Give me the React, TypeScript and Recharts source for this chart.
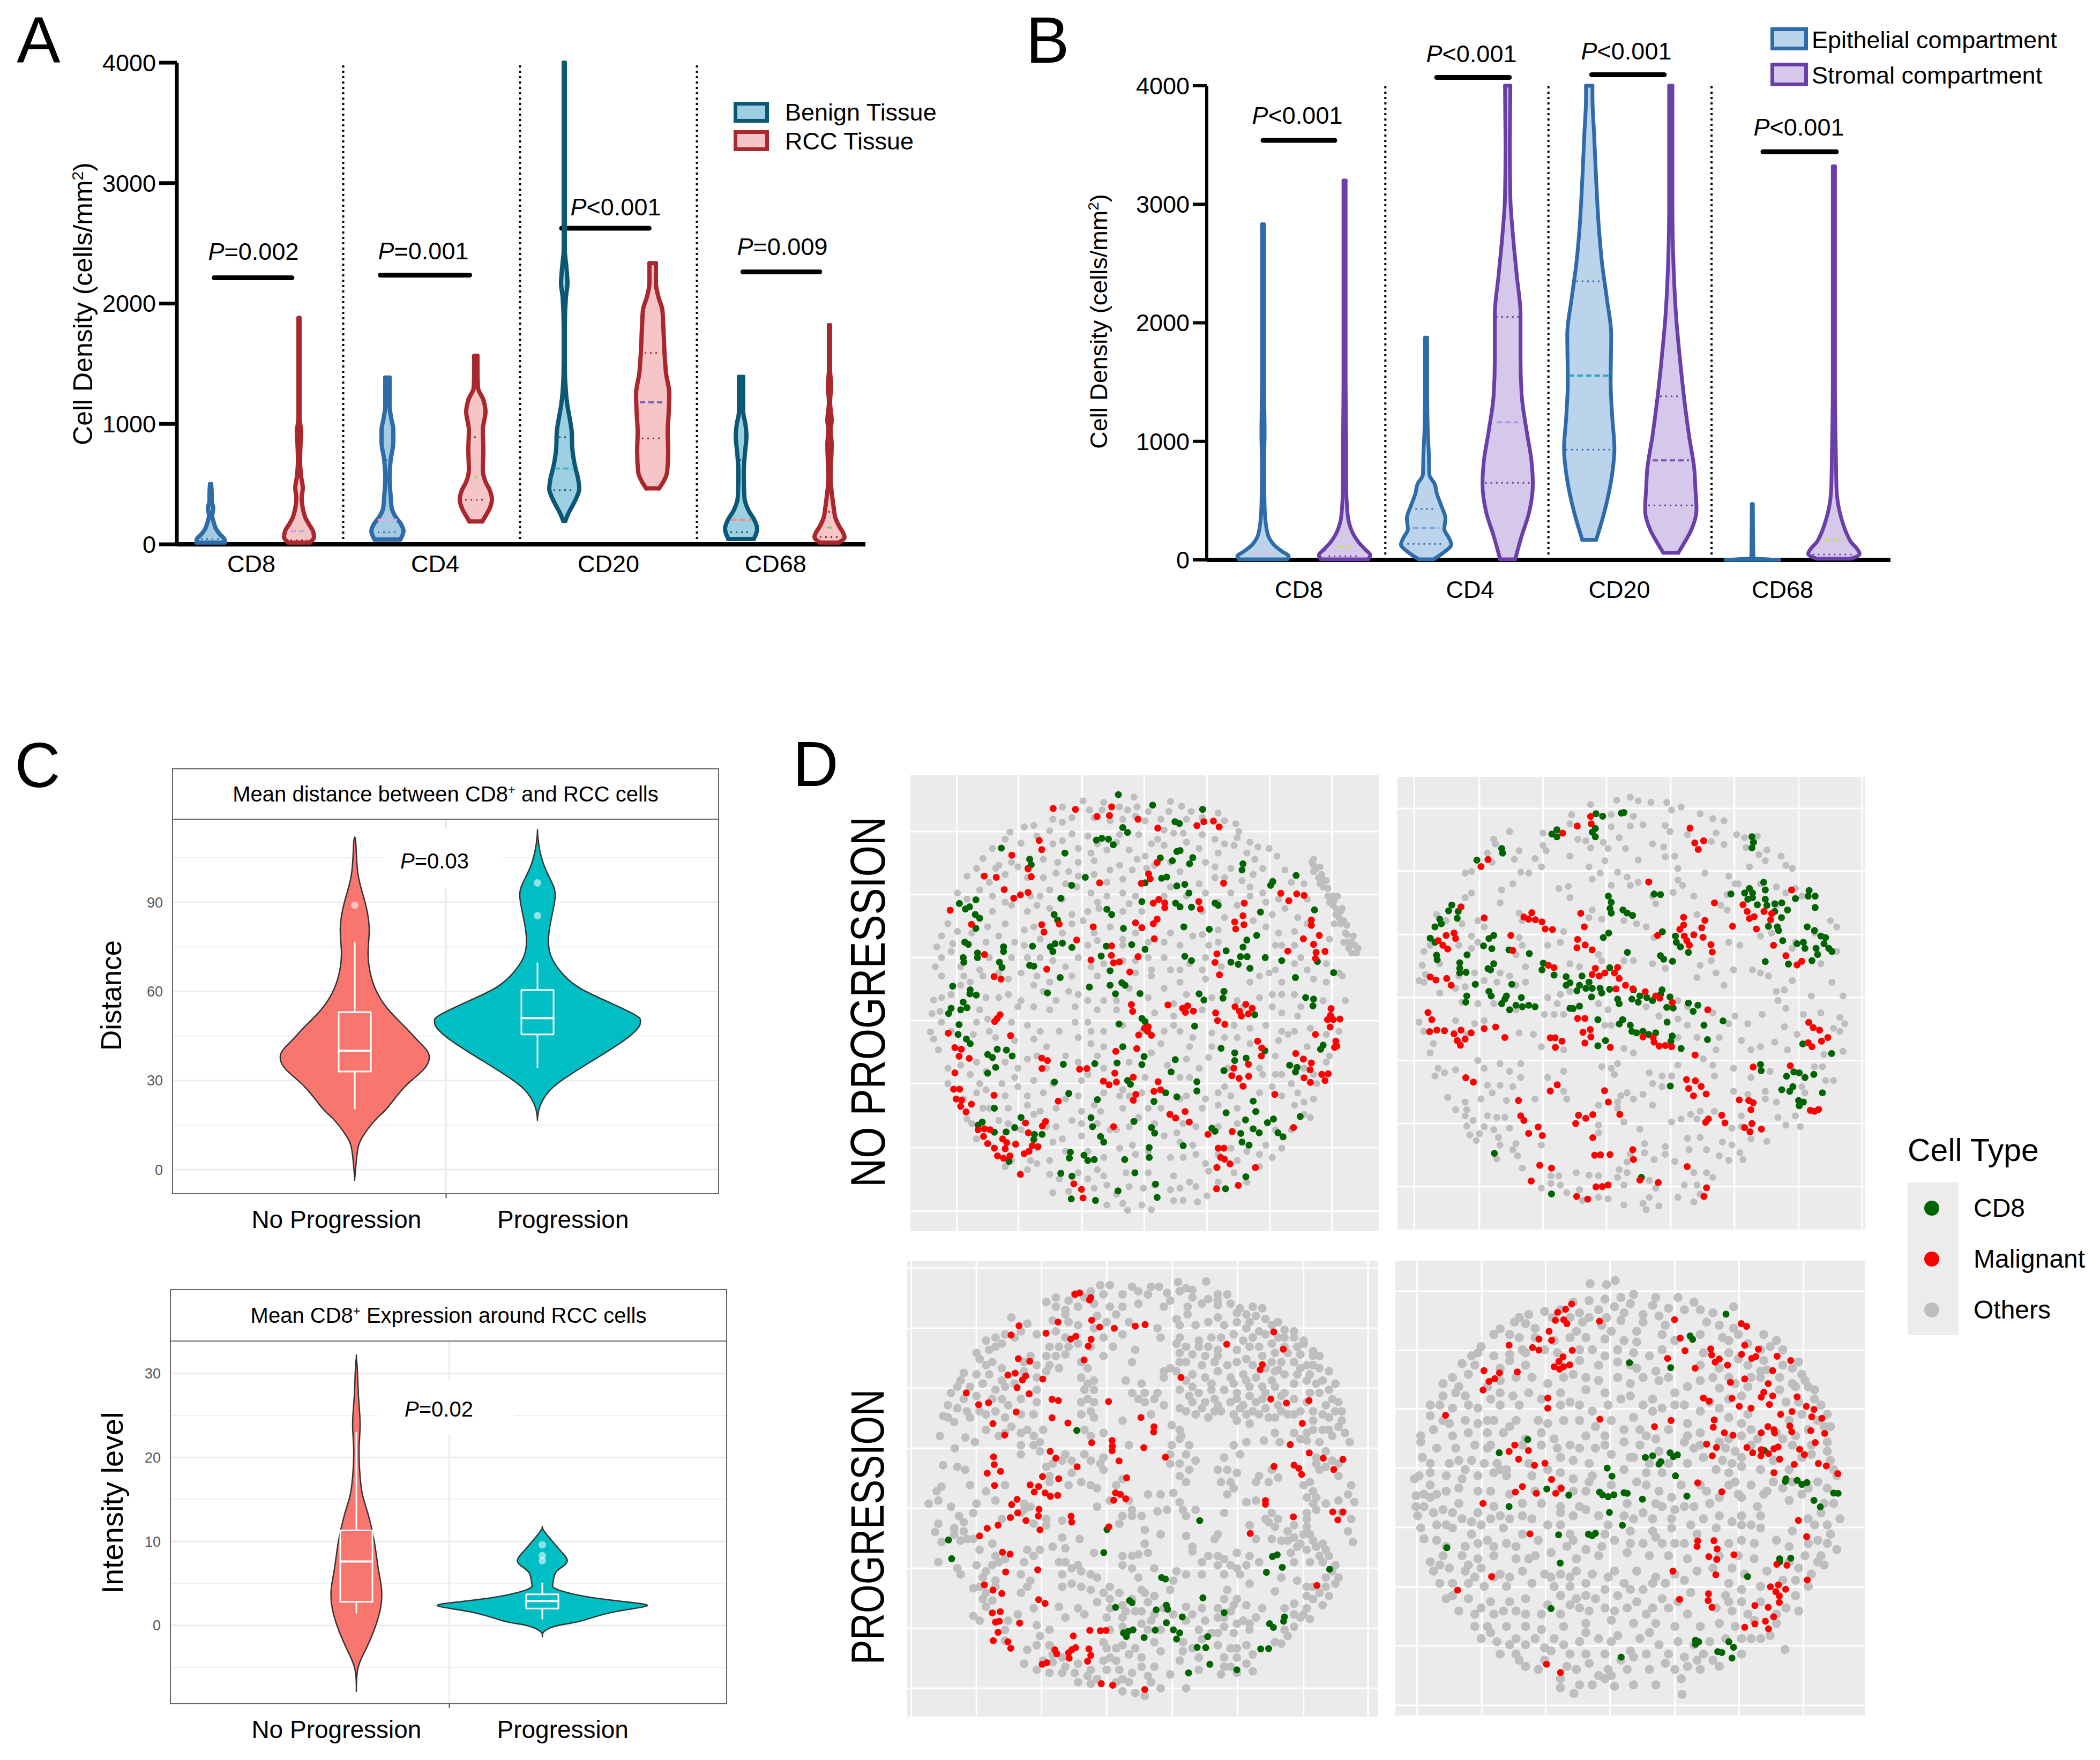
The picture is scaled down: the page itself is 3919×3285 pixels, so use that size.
import React from 'react';
import { ScatterChart, Scatter, XAxis, YAxis, ReferenceLine, CartesianGrid } from 'recharts';

const PAGE_W = 3919;
const PAGE_H = 3285;
const SANS = '"Liberation Sans", Arial, sans-serif';

type Profile = [number, number][];

// panel A: [cell density, half width of the violin]
const aCd8Benign: Profile = [[15,26],[40,26],[80,18],[130,10],[180,6],[240,3],[300,5],[360,2],[420,2],[500,1]];
const aCd8Rcc: Profile = [[15,20],[60,28],[110,26],[170,18],[220,12],[300,7],[380,5],[470,7],[560,4],[700,2],[850,3],[930,4],[1050,1],[1400,1],[1880,1]];
const aCd4Benign: Profile = [[40,24],[110,30],[170,25],[230,15],[300,8],[400,6],[550,4],[700,6],[850,11],[950,11],[1050,7],[1150,4],[1300,4],[1385,4]];
const aCd4Rcc: Profile = [[190,12],[250,20],[300,26],[375,30],[450,26],[520,18],[620,13],[780,14],[950,13],[1100,18],[1200,14],[1300,4],[1450,3],[1565,3]];
const aCd20Benign: Profile = [[195,2],[260,8],[310,14],[380,22],[460,28],[540,26],[650,20],[800,15],[930,14],[1050,10],[1150,6],[1270,3],[1500,1],[1800,1],[2050,3],[2170,6],[2300,4],[2450,1],[4000,1]];
const aCd20Rcc: Profile = [[465,12],[520,20],[600,27],[770,29],[930,28],[1100,30],[1250,31],[1420,25],[1600,22],[1800,20],[1950,18],[2050,11],[2170,6],[2335,6]];
const aCd68Benign: Profile = [[45,24],[130,30],[200,25],[280,14],[400,6],[600,5],[750,7],[900,10],[1000,8],[1100,4],[1390,4]];
const aCd68Rcc: Profile = [[15,18],[60,28],[100,25],[150,18],[220,11],[300,8],[400,5],[550,2],[830,4],[950,2],[1030,4],[1180,1],[1320,3],[1450,1],[1820,1]];
const aProfiles = [aCd8Benign, aCd8Rcc, aCd4Benign, aCd4Rcc, aCd20Benign, aCd20Rcc, aCd68Benign, aCd68Rcc];
const aStrokes = ['#2f6ba6', '#a9282d', '#2f6ba6', '#a9282d', '#0c5874', '#a9282d', '#0c5874', '#a9282d'];
const aFills = ['#a5cbe4', '#f5c5c7', '#a5cbe4', '#f5c5c7', '#9dcfe2', '#f5c5c7', '#9dcfe2', '#f5c5c7'];
const aMedians: [number, number, number][] = [[1,110,16],[2,205,18],[3,560,4],[4,630,18],[5,1180,24],[6,205,18],[7,140,5]];
const aMedianColors = ['#b8a6ec', '#f3a6e6', '#a8d87a', '#4fb0cf', '#7a62c0', '#ef8f88', '#8ccf70'];
const aQuartiles: [number, number, number][] = [[0,45,18],[1,35,16],[2,100,18],[2,700,3],[3,370,20],[3,890,3],[4,450,20],[4,890,10],[5,880,20],[5,1590,15],[6,100,20],[6,700,3],[7,60,18],[7,270,2]];
const aTickSlots = [0.46, 2.54, 4.5, 6.39];
const markerNames = ['CD8', 'CD4', 'CD20', 'CD68'];
const densityTicks = [0, 1000, 2000, 3000, 4000];
const aBars: [number, number, number][] = [[0.04,0.92,2214],[1.92,2.93,2236],[3.97,4.96,2625],[6.02,6.89,2263]];
const sepSlots = [1.5, 3.5, 5.5];

// panel B
const bCd8Epi: Profile = [[5,45],[30,48],[70,36],[120,22],[180,12],[280,6],[450,3],[800,2],[1070,3],[1500,2],[2830,2]];
const bCd8Str: Profile = [[5,44],[40,48],[90,38],[150,26],[220,16],[320,8],[420,5],[650,3],[900,3],[1500,2],[3200,2]];
const bCd4Epi: Profile = [[5,14],[70,35],[130,47],[190,42],[260,34],[350,36],[460,28],[560,20],[640,16],[720,6],[900,5],[1100,3],[1500,2],[1875,2]];
const bCd4Str: Profile = [[5,14],[200,26],[400,40],[640,47],[850,44],[1070,36],[1400,26],[1700,24],[2070,24],[2400,17],[2730,10],[3060,5],[3500,4],[4000,5]];
const bCd20Epi: Profile = [[170,13],[400,28],[700,42],[940,47],[1200,43],[1500,40],[1900,41],[2200,33],[2500,24],[2800,18],[3200,13],[3600,9],[3900,6],[4000,6]];
const bCd20Str: Profile = [[60,14],[150,26],[250,38],[420,48],[600,46],[760,44],[1050,34],[1400,24],[1700,17],[2050,10],[2500,5],[3000,3],[4000,3]];
const bCd68Epi: Profile = [[0,50],[15,2],[470,1]];
const bCd68Str: Profile = [[10,32],[50,48],[100,42],[150,32],[220,24],[320,16],[420,10],[600,5],[800,4],[1070,3],[1500,2],[3320,2]];
const bProfiles = [bCd8Epi, bCd8Str, bCd4Epi, bCd4Str, bCd20Epi, bCd20Str, bCd68Epi, bCd68Str];
const bStrokes = ['#2f6ba8', '#6a3fa8', '#2f6ba8', '#6a3fa8', '#2f6ba8', '#6a3fa8', '#2f6ba8', '#6a3fa8'];
const bFills = ['#bcd3ec', '#d6c8ea', '#bcd3ec', '#d6c8ea', '#bcd3ec', '#d6c8ea', '#bcd3ec', '#d6c8ea'];
const bMedians: [number, number, number][] = [[0,60,20],[1,110,12],[2,270,25],[3,1160,20],[4,1555,38],[5,840,34],[7,170,18]];
const bMedianColors = ['#e8b8dc', '#c8e05a', '#7fa8de', '#b49be0', '#2aa6c0', '#7a52b8', '#c8e05a'];
const bQuartiles: [number, number, number][] = [[1,30,30],[2,135,35],[2,430,20],[3,650,42],[3,2050,22],[4,930,44],[4,2350,24],[5,460,42],[5,1380,20],[7,45,40]];
const bTickSlots = [0.44, 2.54, 4.37, 6.37];
const bBars: [number, number, number][] = [[0,0.88,3539],[2.13,3.02,4070],[4.03,4.92,4093],[6.13,7.03,3443]];

// panel C, top: distance
const distNo: Profile = [[-3,0],[3,3],[8,7],[12,18],[17,40],[21,62],[28,94],[34,130],[39,138],[43,120],[48,94],[54,62],[61,38],[68,27],[74,25],[81,27],[88,22],[94,13],[101,5],[110,2],[112,0]];
const distYes: Profile = [[17,0],[21,4],[25.6,18],[30,45],[36.7,103],[43.3,160],[48,189],[50,192],[52,183],[56.7,129],[61,80],[65.5,49],[72,25],[79,21],[85.5,27],[92,33],[96.6,27],[103,11],[110,2],[114,0]];
// [whisker low, q1, median, q3, whisker high]
const distBoxes = [[20.5,33,40,53,76.5],[34.5,45.5,51,60.5,69.5]];
const distOutliers = [{ x: 0, y: 89 }, { x: 1, y: 96.5 }, { x: 1, y: 85.5 }];
const distTicks = [0, 30, 60, 90];
const distMinor = [15, 45, 75, 105];

// panel C, bottom: intensity
const intNo: Profile = [[-7.6,0],[-5.1,3],[-2.8,18],[-0.4,34],[2,45],[4.3,47],[6.7,41],[9.8,34],[13,23],[15.4,12],[17.7,7],[20.9,5],[24,7],[27.2,4],[30.3,2],[32,0]];
const intYes: Profile = [[-1.3,0],[-0.7,4],[0,30],[0.5,71],[1.6,134],[2.4,196],[3.1,116],[4.2,31],[5.1,20],[6.3,25],[7.2,42],[7.9,46],[8.6,38],[9.4,27],[10.6,11],[11.6,0]];
const intBoxes = [[1.5,2.8,7.6,11.3,23],[0.8,2,2.9,3.7,5]];
const intOutliers = [{ x: 1, y: 9.6 }, { x: 1, y: 8.3 }, { x: 1, y: 7.7 }];
const intTicks = [0, 10, 20, 30];
const intMinor = [-5, 5, 15, 25];
const groupNames = ['No Progression', 'Progression'];

const tlOthers = [575,130,640,135,690,150,735,118,745,150,850,132,885,148,915,165,510,150,595,160,635,160,715,160,780,165,845,165,1000,170,510,200,540,185,700,190,770,195,830,225,860,235,1020,195,1055,205,1065,230,900,190,
390,215,420,210,470,228,540,238,590,245,690,240,750,240,810,255,890,235,950,240,990,255,1060,250,1125,280,290,285,330,255,345,232,380,268,480,270,560,285,600,300,650,290,720,290,770,310,830,275,940,285,1000,300,1050,275,1090,300,1160,285,
260,318,310,340,350,330,370,345,450,320,495,330,560,330,610,325,660,355,745,320,800,340,960,330,990,345,1040,350,1115,320,1185,310,210,375,240,350,280,395,330,370,450,380,490,365,530,360,560,375,650,395,700,385,730,355,880,360,940,400,990,380,1110,370,1140,350,1210,355,1230,395,1100,410,
180,430,250,420,290,440,440,440,470,420,555,410,600,430,650,440,700,430,740,440,850,410,960,430,1040,430,1140,430,1270,400,1150,460,1060,470,290,490,350,470,400,490,430,470,470,480,540,500,590,490,625,480,700,490,760,490,950,490,1020,510,1170,500,1210,480,1250,510,
150,530,180,555,275,540,330,530,390,550,540,530,575,520,660,540,740,560,850,560,920,570,1000,550,1150,540,1190,560,1240,555,115,605,130,570,165,595,270,590,360,590,390,600,440,580,590,600,620,585,700,580,830,590,950,565,1000,590,1180,600,1240,600,1350,580,
110,670,130,640,160,620,250,680,280,640,350,640,440,640,480,650,560,640,600,670,700,650,780,640,830,640,850,680,880,680,960,640,950,680,1180,680,1240,660,1260,640,1340,660,130,700,200,700,220,720,260,700,340,710,380,690,430,700,470,720,540,700,620,700,740,690,790,700,880,720,960,710,1100,720,1160,690,1200,720,1300,710,1340,720,1390,700,
105,778,130,770,190,730,270,770,340,760,420,730,450,750,530,750,590,780,640,780,720,740,830,740,900,760,980,770,1060,780,1130,770,1200,760,1240,760,1330,780,100,822,125,815,250,810,275,840,370,800,420,800,470,810,550,800,620,810,680,810,800,820,860,830,950,810,1170,800,1200,820,1250,830,
95,882,130,850,240,850,280,880,350,850,400,860,440,880,550,850,600,880,640,880,700,860,830,880,880,880,920,900,980,885,1050,860,1100,870,1240,880,1380,880,105,905,120,940,230,890,360,910,420,905,460,930,560,900,600,920,640,930,820,920,910,930,980,930,1060,900,1100,920,1190,910,1220,890,1280,930,1350,960,
190,990,240,980,330,980,370,1000,400,970,460,1000,520,960,620,960,790,950,900,970,970,965,1130,1000,1180,960,1340,980,220,1020,250,1050,320,1050,360,1030,420,1040,570,1040,590,1020,700,1070,770,1030,880,1030,910,1030,1020,1060,1140,1020,1200,1020,1230,1050,
150,1050,240,1080,270,1070,330,1090,400,1090,450,1080,560,1090,640,1080,690,1090,760,1080,900,1090,960,1100,1040,1090,1130,1080,1170,1060,1250,1080,1300,1100,1310,1050,210,1165,280,1130,340,1130,400,1120,440,1140,490,1130,570,1140,630,1140,700,1130,780,1130,950,1130,1000,1120,1060,1130,1240,1120,1270,1110,
225,1180,310,1170,340,1180,420,1150,490,1190,540,1170,620,1180,720,1190,750,1160,870,1210,890,1180,1060,1180,1290,1160,240,1230,480,1240,510,1230,570,1220,680,1200,730,1250,830,1220,880,1240,920,1250,1040,1260,1150,1250,1200,1260,350,1300,410,1300,430,1310,470,1300,640,1290,740,1280,850,1290,930,1280,960,1310,1060,1300,1130,1280,1170,1290,
330,1320,400,1330,470,1345,560,1340,620,1330,640,1350,710,1340,780,1340,860,1350,910,1370,970,1335,1050,1340,1130,1320,480,1405,530,1400,610,1390,650,1380,720,1385,765,1390,850,1395,930,1385,965,1415,890,1430,650,1445,700,1440,715,1462,790,1460,760,1445,860,1430,935,1435,
1300,320,1310,350,1315,380,1330,410,1345,440,1360,470,1370,500,1385,530,1400,560,1420,590,1435,625,1410,610,1375,440,1390,480,1340,390,1300,360,1350,460,1325,370,1365,530,1395,590,1360,440,1380,510,1405,535,1430,600,1295,330,1320,345,1330,385,1345,415,1365,455,1385,490,1395,520,1405,565,1425,570,1440,610,1420,625,1300,340,1320,400,1370,480,1410,590,
610,185,660,195,740,180,820,190,950,185,480,190,430,245,510,260,620,270,680,265,790,270,900,265,1020,270,1100,265,300,350,400,380,520,400,610,370,690,340,775,350,850,330,1020,380,1075,390,1170,390,210,450,330,460,410,440,510,450,620,460,720,465,830,440,900,440,1000,460,1100,440,1190,450,1280,450,225,560,310,570,420,540,510,560,610,560,700,600,780,590,880,600,970,600,1110,520,1200,600,1280,530,
190,670,310,690,400,640,520,670,640,660,740,650,790,680,910,660,1010,670,1130,700,1280,680,1380,690,160,760,310,770,380,780,490,780,560,760,680,780,780,770,860,790,1020,750,1080,800,1170,760,1260,800,1400,780,160,880,300,900,500,880,590,850,760,880,860,860,1020,900,1150,860,1200,880,1290,870,1340,890,150,1000,270,1010,430,960,560,980,640,1000,720,980,840,990,940,1000,1030,1000,1180,1020,1270,1000,1300,1020,
200,1100,370,1060,480,1050,520,1100,610,1120,720,1090,820,1130,880,1100,1000,1080,1080,1060,1200,1090,1270,1150,260,1130,380,1200,460,1190,570,1180,660,1200,800,1180,930,1190,1000,1190,1120,1140,1180,1200,1230,1200,430,1260,520,1270,590,1270,690,1260,780,1270,890,1290,1000,1280,1090,1270,500,1360,590,1360,680,1410,800,1380,880,1390,1000,1370,1090,1370];
const tlMalignant = [481,155,551,158,665,150,619,181,658,178,748,190,810,219,933,211,955,198,985,196,1003,215,437,259,445,289,351,307,402,352,412,377,264,375,302,379,327,419,357,447,378,436,402,428,157,486,224,532,265,630,295,702,317,710,808,331,781,368,786,384,758,399,627,397,1017,398,1197,431,1222,455,1247,433,1270,438,796,463,813,451,832,462,832,478,939,458,944,482,1082,463,1078,504,1052,524,1055,547,1081,533,808,515,796,530,740,527,760,543,607,540,445,533,452,557,500,531,555,583,799,579,1293,518,1293,535,1318,568,1268,579,1300,597,1219,619,1308,623,1336,620,1306,643,665,602,664,633,671,657,689,654,600,648,748,637,722,687,461,678,996,628,990,656,1004,696,1355,806,1353,828,1344,842,1362,842,1383,840,1352,866,1306,890,1370,912,1373,928,1366,932,727,793,731,815,842,794,888,805,904,797,897,818,922,814,992,820,998,845,1021,857,1053,800,1087,792,1107,805,1067,815,1073,830,1095,823,314,826,305,838,297,848,151,886,347,894,768,870,780,865,778,880,790,893,750,892,744,936,678,945,172,933,192,938,185,961,217,968,445,967,463,975,446,1001,564,1003,587,1001,172,1015,168,1068,187,1068,176,1100,193,1104,190,1124,224,1117,207,1142,295,1088,675,1016,733,1029,639,1042,657,1054,680,1045,811,1044,798,1075,819,1070,741,1085,733,1104,497,1107,1124,912,1137,934,1136,960,1244,952,1268,970,1293,983,1289,1005,1095,987,1049,1000,1043,1024,1066,1033,1096,1026,1078,1058,1270,1031,1290,1046,1326,1020,1346,1018,1336,1040,1178,1085,848,1150,866,1162,896,1141,909,1175,671,1190,394,1178,457,1173,447,1188,403,1210,968,1215,1044,1206,1237,1193,245,1200,265,1197,283,1200,262,1222,275,1245,296,1260,322,1230,335,1242,330,1262,306,1285,325,1293,345,1285,363,1247,415,1252,433,1255,405,1270,390,1278,378,1345,1000,1260,1018,1260,1008,1290,1020,1296,1037,1311,996,1323,1117,1323,546,1376,570,1394,575,1422,995,1392,1063,1381];
const tlCd8 = [686,110,794,144,951,158,864,198,878,204,700,217,715,233,617,258,634,252,655,255,670,273,318,284,518,300,407,320,412,338,402,350,880,292,870,295,818,316,856,325,920,315,910,335,1078,335,1075,355,582,379,539,405,770,397,822,382,838,378,1245,373,1172,393,1165,405,870,407,895,402,908,430,238,452,186,464,205,482,218,475,236,500,250,512,238,545,505,447,760,458,866,463,880,475,916,476,990,463,1000,470,1133,492,1303,485,650,483,665,500,484,500,495,518,702,545,892,540,972,548,1121,568,1090,583,1078,606,203,590,214,597,325,605,325,620,416,603,472,605,487,595,510,593,480,620,540,607,648,603,728,598,770,613,243,625,243,640,198,640,200,655,312,655,320,672,407,665,420,668,632,635,895,636,916,650,1025,618,1040,655,1070,637,1091,637,1063,662,1100,675,1148,640,1200,650,1312,653,660,683,503,705,1363,689,1243,705,697,722,707,730,660,730,595,736,165,733,220,745,219,758,239,762,463,755,754,757,677,758,940,758,955,778,1018,750,1015,772,198,785,190,810,210,803,160,805,152,822,1275,770,1300,775,1298,797,760,838,770,848,688,856,926,863,1115,826,185,858,182,890,208,905,220,920,700,930,1009,935,1147,943,1330,925,1322,938,275,955,290,965,305,938,334,941,352,960,300,997,865,972,1052,950,1052,975,1088,967,767,962,612,985,682,983,513,987,760,988,1225,990,1248,997,1243,1012,1018,1008,852,1012,275,1016,485,1045,715,1040,724,1052,933,1044,933,1074,530,1082,835,1080,870,1093,620,1102,798,1108,1110,1107,296,1130,1118,1141,1025,1145,600,1161,735,1173,1086,1168,1174,1165,1155,1177,1258,1157,380,1160,258,1175,245,1185,360,1193,333,1207,296,1208,605,1190,790,1193,800,1211,980,1195,990,1205,1110,1197,1071,1212,1129,1210,1188,1210,1204,1223,422,1215,420,1232,446,1215,630,1222,640,1240,1075,1240,1097,1250,890,1252,783,1258,783,1290,535,1273,532,1292,578,1283,590,1300,610,1297,706,1297,342,1303,738,1340,505,1342,540,1351,1087,1353,803,1377,1023,1392,685,1399,808,1420,538,1425,614,1430];

const trOthers = [737,128,780,118,805,130,655,142,895,135,940,150,845,135,720,175,790,180,595,175,910,160,1000,172,1040,188,1075,195,720,215,780,212,820,208,890,210,590,205,905,230,505,235,400,230,1050,235,960,240,1115,240,1140,250,1180,245,350,255,355,270,505,275,615,255,640,260,695,265,745,250,850,270,885,280,1035,262,1075,272,1145,282,330,300,430,292,515,292,590,310,655,283,710,285,765,285,805,322,890,312,920,310,1210,290,1255,310,1185,305,1205,325,
260,365,280,360,415,320,345,330,435,362,460,365,480,318,500,345,650,345,685,365,700,325,1155,345,1270,340,1290,350,930,350,1015,365,770,378,740,362,410,400,375,420,280,430,260,445,370,462,555,415,585,408,590,445,660,385,720,405,780,405,805,395,930,388,945,405,915,428,980,440,850,440,1090,375,1110,400,1085,435,1120,400,
170,500,200,520,250,530,300,520,320,540,280,570,300,590,430,495,440,520,660,485,650,510,690,515,760,520,800,530,860,465,830,540,855,575,990,500,1065,470,1085,485,1190,400,1240,410,1270,430,1300,415,1320,440,1240,470,130,620,150,600,240,600,280,610,430,575,440,600,420,630,520,600,560,590,570,555,680,630,690,650,760,650,790,650,1090,590,1125,600,1190,570,1225,560,1300,590,1290,610,1360,560,1410,520,1430,540,1430,620,
125,665,180,660,135,695,240,700,290,690,370,690,400,700,450,670,590,660,620,670,850,660,890,675,1000,665,1035,650,1050,690,1105,680,1165,680,1190,690,1215,700,1290,715,1380,660,1415,720,115,715,130,720,180,755,230,740,260,735,320,715,360,720,420,730,450,720,560,760,590,750,990,705,1075,730,1240,750,1265,745,1450,765,1350,765,1245,780,
250,785,300,790,350,790,420,810,520,770,550,790,680,790,710,810,830,800,930,780,960,800,1040,820,1110,830,1270,805,1195,825,1325,825,1380,820,115,850,130,880,230,845,290,855,320,845,510,825,540,825,570,825,700,860,720,860,870,830,930,840,960,860,1090,855,1150,855,1265,865,1305,890,1440,835,1455,855,1420,870,
160,920,150,950,265,890,430,885,475,890,500,930,570,940,760,935,790,950,930,900,990,900,1060,900,1050,940,1130,910,1190,930,1235,915,1275,940,1160,940,1390,955,1450,945,1440,880,300,975,175,1000,195,1015,230,1005,320,1000,370,985,400,1010,435,985,690,995,720,1000,740,985,930,990,1040,990,1105,1000,1220,1010,1360,995,1385,995,1010,970,165,1025,435,1030,520,1030,570,1010,730,1020,840,1015,880,1025,910,1025,1045,1025,1160,1030,1395,1040,1420,1040,
330,1055,370,1055,410,1060,570,1075,750,1090,770,1080,820,1085,850,1050,880,1060,1105,1075,1150,1085,1205,1075,1320,1060,1330,1080,205,1095,345,1080,260,1110,310,1100,390,1105,480,1100,580,1100,740,1110,790,1100,1205,1100,1240,1110,1300,1155,230,1135,265,1135,330,1155,360,1160,385,1160,680,1120,740,1130,850,1120,970,1150,1000,1140,1130,1155,1245,1160,1045,1140,
260,1155,285,1170,265,1188,320,1190,350,1200,400,1195,680,1185,760,1175,940,1165,910,1175,990,1165,1100,1195,1130,1190,1270,1185,1315,1190,275,1217,305,1213,295,1235,365,1225,420,1245,680,1210,810,1198,960,1228,1000,1225,1210,1238,1160,1230,370,1250,410,1265,500,1250,825,1245,890,1255,965,1265,1070,1240,1100,1250,1020,1265,
425,1285,360,1295,780,1280,825,1275,890,1280,1060,1285,1090,1300,1125,1275,1135,1297,855,1297,920,1303,440,1325,1020,1340,980,1340,770,1305,745,1330,530,1350,555,1350,610,1340,650,1348,680,1350,530,1375,740,1355,770,1340,840,1365,990,1380,950,1380,1040,1355,500,1390,560,1380,620,1395,760,1380,860,1390,930,1420,1000,1410,580,1405,630,1430,680,1420,710,1425,760,1445,820,1440,870,1448,980,1435,840,1420,830,1460];
const trMalignant = [968,219,1011,260,983,267,994,288,655,181,657,205,613,212,567,235,332,321,310,344,247,475,320,511,470,494,445,508,460,515,481,517,502,524,512,547,535,549,624,496,635,540,614,581,612,608,638,599,660,615,838,394,1288,420,1045,462,948,509,948,534,936,548,1015,519,1005,543,1009,574,1034,598,1038,622,866,568,950,570,980,566,958,585,966,600,1102,538,1135,468,1148,490,1155,513,1170,507,1177,547,1201,490,1225,497,1222,517,1231,600,1270,634,1305,664,1320,652,200,568,225,560,230,578,175,585,190,600,205,612,404,568,410,617,522,665,540,673,670,675,660,695,700,690,740,672,730,690,682,700,745,708,765,730,735,742,788,742,827,751,860,765,873,772,912,786,1024,810,150,703,168,713,202,708,216,730,143,819,155,842,148,881,171,876,195,878,225,888,247,876,279,885,320,871,356,866,385,900,260,905,235,910,245,925,528,901,543,901,565,912,544,932,631,883,654,874,656,898,637,918,614,838,637,838,717,932,820,898,852,900,855,915,871,928,890,926,910,930,984,957,1342,851,1356,868,1376,876,1402,900,1382,912,1352,930,1340,917,1167,996,1284,992,262,1031,286,1045,550,1054,528,1074,699,1073,711,1110,428,1105,747,1150,662,1151,640,1163,617,1153,608,1180,435,1155,445,1170,460,1212,490,1191,503,1219,662,1226,957,1037,985,1041,1003,1059,964,1066,1019,1084,979,1090,1123,1103,1153,1105,1167,1112,1160,1135,1347,1137,1360,1140,1373,1134,1068,1153,1078,1178,1026,1165,1017,1176,1163,1180,1140,1193,1157,1207,1193,1198,668,1283,686,1282,716,1281,788,1265,790,1297,959,1320,495,1316,532,1325,468,1367,810,1364,868,1372,672,1386,692,1385,710,1380,1020,1389,1012,1417,611,1417,646,1426];
const trCd8 = [672,172,693,180,752,170,760,168,670,220,660,232,670,247,549,224,533,238,549,247,375,285,378,300,297,323,1163,247,1168,265,1163,283,875,435,855,433,1097,433,1155,415,1140,430,1165,430,1150,450,1165,445,1200,395,1205,420,1180,468,1205,450,1210,470,1235,465,1257,462,1235,490,1275,485,1256,510,1300,448,1343,422,1340,440,1362,440,1362,477,218,469,208,488,238,490,235,512,180,515,165,540,185,530,711,440,720,460,716,480,720,495,757,485,770,495,787,503,712,560,695,575,881,556,922,570,925,590,938,605,963,623,875,634,885,645,913,652,771,623,150,577,165,590,350,568,335,578,318,602,344,611,398,615,462,627,266,631,170,632,172,647,243,657,243,675,243,690,263,688,350,660,340,680,332,676,506,658,502,680,292,727,407,727,540,697,578,702,578,730,590,722,628,700,620,730,612,748,650,720,640,740,660,740,685,740,690,755,715,743,658,768,715,673,1205,653,1278,661,1352,650,1215,538,1243,540,1247,552,1337,540,1360,552,1260,585,1305,595,1325,590,1330,610,1365,610,1370,630,1380,570,1395,575,1390,595,1405,610,1415,620,740,775,745,790,790,745,785,775,810,765,805,785,832,770,850,780,880,745,875,760,905,768,895,802,915,804,963,788,978,815,993,795,1072,846,1012,860,1023,907,265,765,262,785,335,750,342,765,390,765,375,790,400,810,385,775,420,795,437,770,440,800,460,795,480,800,590,805,600,806,620,798,678,842,756,842,745,856,780,860,785,880,800,885,820,880,838,890,860,885,896,850,912,895,908,912,940,936,702,910,678,927,1323,921,1414,952,1190,988,1192,1008,1272,1026,1295,1012,1312,1015,1330,1030,1358,1020,1292,1060,1282,1075,1257,1070,1385,1080,1310,1105,1325,1110,1312,1122,906,1058,352,1277,532,1409,815,1355];

const blOthers = [630,120,660,120,790,125,815,125,875,110,900,130,963,108,730,125,700,150,640,150,580,160,490,160,460,175,530,170,780,150,850,170,880,140,920,160,970,165,1000,150,1030,150,490,190,520,200,560,190,610,180,660,190,700,190,830,190,905,190,950,180,1000,185,1040,180,1110,190,1140,195,1060,210,1090,215,520,215,620,220,680,215,905,215,1000,225,
350,225,400,245,530,240,650,240,720,240,810,260,880,250,1020,250,1060,240,1100,240,1150,230,1170,250,1210,265,1090,260,270,300,300,290,380,270,430,280,490,270,520,290,640,290,700,280,820,290,880,290,940,300,980,290,1050,280,1110,290,1150,280,1190,290,1240,290,1300,335,
300,320,320,310,280,330,470,320,500,320,530,320,490,350,520,345,460,350,900,320,940,320,970,320,1000,330,880,340,920,345,960,350,1000,350,1060,330,1100,320,1130,320,1170,310,1210,320,1250,320,1140,350,1180,340,1220,340,1260,345,1300,350,240,340,250,360,290,370,410,350,430,380,470,380,570,370,590,390,740,330,640,350,670,320,730,370,830,400,850,390,880,370,1090,360,1060,370,1110,380,1170,370,1200,370,1240,370,1280,380,1320,390,
200,405,240,410,280,410,320,430,390,400,430,420,570,420,610,430,710,430,830,420,920,410,960,420,1000,400,1040,420,1080,410,1120,420,1180,400,1210,410,1250,410,1290,410,1330,430,1170,430,1240,440,160,470,180,450,220,450,300,460,330,450,430,460,580,460,610,460,730,470,770,470,810,470,880,460,920,450,940,470,980,460,1020,460,1060,470,1100,450,1140,450,1180,450,1210,470,1320,470,1350,460,1290,470,
150,510,180,520,210,530,320,490,340,510,430,500,570,500,610,500,770,500,830,510,880,520,920,500,960,500,1000,510,1040,500,1080,510,1120,500,1150,520,1190,510,1260,530,1300,530,1340,510,1380,500,1390,530,135,545,170,565,220,550,270,540,330,550,380,540,420,540,570,540,610,550,700,560,790,540,930,540,970,550,1010,530,1050,540,1090,540,1130,540,1180,550,1220,540,1300,560,1350,550,1390,560,
125,610,205,615,270,590,330,600,380,600,420,610,450,590,580,590,640,600,880,590,855,575,1060,560,1240,600,1280,600,1330,590,1400,600,1360,610,1180,600,172,650,235,630,380,640,420,640,440,660,520,670,580,670,640,680,720,640,855,640,885,610,910,640,1050,640,1090,630,1145,625,1195,630,1320,630,1415,630,1280,625,
135,705,180,710,205,720,460,710,470,740,510,690,540,730,630,700,850,670,880,700,930,690,1020,680,1070,670,1000,720,1130,740,1170,720,1310,700,1340,710,1380,740,130,775,220,770,270,790,330,770,470,760,570,760,600,770,640,720,700,750,880,740,900,760,1040,760,1060,730,1160,760,1190,745,1270,770,1420,770,1320,720,
90,830,120,820,115,790,160,840,240,830,300,820,390,830,620,840,660,820,720,820,780,800,820,800,860,795,880,825,1030,800,1090,825,1120,820,1280,810,1300,830,1430,825,1380,820,185,870,230,860,320,880,380,860,410,840,460,880,510,885,700,870,730,870,810,855,840,850,890,850,930,850,1020,860,1170,860,1310,850,1420,880,1280,860,
120,895,110,922,170,910,200,920,420,895,690,895,770,915,820,930,900,935,1000,930,1100,900,1160,890,1240,900,1280,905,1270,930,1240,940,1410,920,130,955,190,950,230,945,290,960,510,940,565,945,770,960,920,970,990,945,1120,945,1170,945,1220,950,1260,960,1300,950,1330,960,1425,955,
120,1020,180,1040,250,980,300,1000,400,980,440,980,480,970,520,975,610,990,750,995,780,990,920,985,1000,1000,1060,990,1100,1000,1230,990,1280,980,1320,1000,1350,1000,240,1030,270,1050,310,1020,390,1020,500,1020,560,1030,700,1030,730,1040,800,1040,870,1050,950,1020,1000,1030,1040,1030,1090,1030,1130,1020,1240,1020,1290,1020,1370,1030,
190,1060,260,1070,300,1080,380,1060,410,1080,510,1060,570,1050,620,1070,750,1070,860,1080,900,1060,950,1060,1020,1060,1070,1060,1200,1070,1340,1070,1380,1070,1250,1080,230,1105,290,1145,380,1120,400,1100,510,1100,570,1100,640,1120,690,1120,770,1120,850,1110,1030,1110,1060,1140,1100,1090,1180,1115,1280,1100,1340,1100,1300,1140,1350,1130,
270,1165,370,1190,420,1170,500,1165,560,1170,620,1150,660,1140,710,1180,780,1150,760,1180,900,1165,950,1170,1000,1170,1050,1160,1090,1160,1140,1170,1240,1155,1280,1170,1330,1160,230,1195,250,1210,340,1210,430,1225,520,1200,580,1190,650,1200,700,1200,760,1220,790,1210,900,1210,960,1210,1020,1200,1060,1220,1120,1200,1210,1170,1260,1200,1290,1205,
330,1240,440,1260,470,1240,660,1240,780,1240,820,1240,890,1280,940,1240,1000,1250,1050,1250,1100,1240,1240,1230,1220,1260,1180,1280,330,1275,400,1305,430,1290,470,1290,650,1300,680,1300,800,1280,820,1310,890,1310,1000,1290,1040,1300,1090,1290,1200,1285,
390,1350,430,1370,480,1345,510,1330,560,1350,640,1340,680,1340,720,1320,760,1330,880,1340,940,1330,1020,1330,1060,1330,1110,1320,470,1380,510,1380,550,1380,590,1390,650,1370,690,1370,730,1380,780,1390,850,1385,940,1370,1010,1385,1060,1380,1110,1375,560,1410,600,1415,680,1410,720,1410,790,1410,820,1430,900,1430,700,1440,740,1445,770,1455,
600,140,750,140,840,145,920,135,1000,170,750,180,550,150,1070,195,480,235,560,250,610,260,870,230,930,250,970,240,1120,220,1190,240,1240,270,1270,300,330,280,360,290,560,310,600,320,1010,290,1080,300,1130,270,1210,290,1270,310,1320,350,870,310,270,380,320,390,460,400,500,390,390,370,950,380,990,370,1030,380,1150,390,1190,395,1260,390,1300,380,1350,400,870,400,900,370,
190,430,260,440,360,440,590,440,760,440,900,430,980,440,1050,440,1090,430,1150,470,1280,430,1370,440,1310,440,200,490,240,480,290,490,380,490,590,490,750,490,800,490,910,480,990,490,1060,490,1100,480,1140,490,1200,480,1240,490,1280,500,1360,490,150,550,250,530,300,530,600,530,900,530,950,520,990,530,1070,520,1110,530,1160,550,1200,530,1240,540,1330,540,1370,530,
350,580,400,590,310,610,600,610,1100,570,1380,580,1300,590,1260,620,1350,590,880,620,440,630,380,670,540,690,600,690,850,700,900,670,1340,660,1360,690,1310,680,1380,700,480,700,530,770,620,780,680,770,910,720,1010,760,1030,720,1050,780,1120,760,1290,760,1300,790,1310,810,1340,830,1410,800,1390,860,
170,930,200,890,210,945,390,850,460,900,730,850,760,870,900,870,1150,880,1190,880,1280,880,1180,905,1220,920,1200,950,1250,970,1290,930,1310,970,1340,980,290,1030,330,1010,420,1000,520,1020,540,1040,600,1060,700,1000,730,1000,970,1000,1020,1010,1060,1040,1330,1020,1360,1050,1370,1090,250,1100,270,1120,260,1140,300,1100,540,1090,600,1110,660,1100,700,1160,730,1140,760,1110,800,1130,1020,1140,1040,1180,1000,1200,1300,1100,1280,1130,1270,1190,1320,1120,
660,1170,700,1230,740,1180,800,1190,830,1170,860,1190,920,1190,980,1250,1020,1230,1080,1210,1100,1220,1240,1190,1210,1240,640,1280,660,1330,700,1290,740,1300,760,1360,800,1360,920,1300,950,1270,1020,1360,1060,1300,1090,1350,480,1320,450,1340,520,1360,600,1370,620,1400,700,1400,1040,1360];
const blMalignant = [550,150,565,145,600,160,596,168,497,240,603,234,628,256,674,260,740,253,771,248,374,252,459,276,349,282,537,295,553,286,601,296,592,318,1176,272,1206,328,1028,312,372,359,408,367,579,363,1140,378,1133,395,339,412,362,406,395,415,385,428,368,453,449,425,884,420,208,470,406,473,247,508,278,502,478,491,498,495,656,498,1167,490,1216,503,1287,495,365,532,478,551,758,550,528,568,292,570,799,580,798,597,1266,569,329,607,603,632,667,625,668,643,667,658,767,648,1228,638,1288,665,472,660,490,682,689,691,835,679,294,678,296,703,557,710,316,725,274,731,1177,709,1240,705,1255,715,1332,682,1394,686,1365,719,1264,735,448,742,499,749,713,746,297,771,409,769,436,774,422,792,456,795,473,806,496,803,678,795,693,800,710,814,672,819,368,816,351,833,1150,820,1150,832,437,848,370,860,347,875,435,870,538,871,540,890,396,885,1238,873,1362,857,1394,857,1378,883,308,900,274,910,657,905,440,915,250,935,1102,927,322,988,346,994,433,1045,332,1052,265,1094,292,1111,320,1122,1312,1096,436,1142,456,1154,290,1185,315,1181,300,1215,312,1212,376,1218,308,1248,293,1275,339,1279,348,1300,545,1260,597,1242,630,1243,648,1242,487,1305,493,1318,530,1315,540,1305,552,1298,532,1332,594,1302,600,1323,590,1342,447,1352,462,1347,633,1415,669,1420,770,1434];
const blCd8 = [556,592,651,914,943,885,152,948,162,1009,641,989,1172,1002,1187,996,1203,1037,1153,1053,1352,1043,823,1070,835,1075,722,1145,730,1152,678,1167,806,1175,838,1160,842,1173,953,1136,1020,1184,888,1198,838,1217,703,1250,718,1245,733,1240,712,1262,803,1241,768,1265,860,1240,880,1250,870,1270,968,1262,1210,1198,1207,1212,1175,1232,1163,1220,935,1297,962,1298,1135,1302,1160,1301,975,1352,908,1380,1060,1370];

const brOthers = [653,115,705,118,732,105,600,175,650,170,700,165,750,160,790,150,860,160,930,160,980,175,460,215,510,205,560,200,620,210,680,200,730,190,780,180,850,185,900,195,1000,200,1040,210,1105,190,370,262,415,240,450,245,630,240,690,250,750,235,820,240,890,250,1020,240,1060,250,1105,260,350,280,430,290,480,290,590,290,640,290,700,295,760,300,800,305,880,280,1070,290,1120,280,1200,280,
310,320,350,350,400,345,440,330,510,330,660,330,740,330,790,340,840,350,1090,340,1220,320,1260,330,1200,365,250,375,290,380,370,390,400,365,450,380,620,365,680,380,740,370,800,390,860,400,1000,380,1060,390,1150,380,1290,390,1210,395,1160,420,220,420,270,410,370,430,420,420,470,420,600,410,680,430,740,420,820,420,870,430,1000,430,1040,420,1190,420,1250,420,1320,410,1060,455,
190,480,230,470,260,480,370,470,410,480,460,470,560,470,640,460,700,470,780,480,850,490,920,470,960,450,1130,480,1250,460,1340,450,1150,450,180,510,220,520,300,520,370,510,430,510,560,510,620,510,660,530,710,510,820,510,880,520,950,510,1000,530,1060,520,1150,540,1270,500,1360,490,1090,550,150,545,210,570,260,560,300,570,350,560,420,560,490,560,570,560,620,560,720,560,790,550,850,530,960,570,1130,570,1160,590,1320,540,1390,580,
160,590,220,610,270,600,330,600,380,600,500,600,540,620,640,610,700,610,760,590,810,590,960,610,1000,600,1130,610,1300,610,1260,620,1340,590,1410,580,120,630,170,650,230,650,290,640,330,650,500,640,550,650,620,650,670,650,720,670,810,640,860,620,980,650,1080,650,1110,660,1060,630,1290,640,1350,640,1400,630,125,680,150,700,240,690,280,690,320,700,360,700,390,720,520,720,560,680,600,690,650,700,780,680,840,700,900,700,960,700,1070,690,1100,700,1130,680,1350,670,
115,740,150,730,200,740,250,750,300,740,350,730,390,740,470,740,560,730,600,750,660,740,760,720,830,730,880,730,1050,720,1090,730,1130,710,1190,720,1280,720,1410,690,105,805,150,770,200,790,300,790,370,720,600,790,640,790,800,760,870,790,940,770,1000,770,1110,760,1160,770,1090,770,1210,790,1260,780,1400,780,1370,760,105,840,150,810,190,850,240,830,300,860,350,840,440,830,500,830,560,840,620,840,770,830,860,830,920,850,980,840,1030,830,1130,810,1200,800,1280,820,1320,800,1420,830,
110,870,160,860,220,860,280,890,340,880,400,880,470,880,520,900,600,870,680,870,790,880,850,880,910,880,1060,870,1130,870,1190,870,1380,860,1440,880,1400,900,120,910,170,900,220,910,280,930,380,910,440,930,560,900,590,930,700,930,780,920,850,920,910,910,970,900,1050,910,1130,900,1190,910,1290,920,1360,900,1410,930,130,945,170,950,260,970,300,960,350,970,420,970,490,950,580,970,640,980,730,950,820,960,880,960,950,960,1090,960,1170,960,1240,950,1340,960,1400,960,1430,980,
150,1020,190,1000,250,1000,300,1010,350,1000,420,1010,480,1000,610,1010,680,1000,770,990,840,1000,900,1000,960,1010,1120,1000,1170,1010,1330,1000,1380,1000,160,1050,210,1040,260,1050,310,1040,370,1060,440,1050,510,1060,560,1060,610,1050,660,1060,730,1050,800,1050,860,1070,990,1050,1100,1040,1210,1050,1310,1040,1370,1020,180,1090,270,1090,320,1100,390,1100,540,1100,590,1100,640,1090,700,1110,760,1090,820,1110,890,1090,950,1080,1090,1090,1130,1110,1190,1100,1300,1080,1340,1100,
200,1140,270,1140,340,1150,400,1150,450,1140,560,1130,610,1140,670,1140,740,1130,800,1150,880,1140,970,1120,1080,1130,1130,1150,1190,1150,1300,1130,240,1180,290,1190,350,1190,420,1180,500,1190,560,1190,620,1170,700,1170,770,1170,830,1190,900,1170,960,1190,1050,1170,1100,1180,1150,1190,1270,1170,290,1230,330,1230,390,1230,450,1230,500,1240,570,1230,640,1220,720,1210,790,1220,860,1220,920,1230,1000,1230,1060,1220,1110,1230,1240,1220,
310,1270,360,1280,420,1270,480,1270,540,1270,620,1280,680,1270,740,1260,810,1270,870,1290,930,1280,1030,1280,1130,1270,1190,1270,1267,1305,370,1320,420,1320,530,1310,590,1320,640,1320,700,1320,790,1330,900,1320,950,1330,1010,1320,1040,1340,1130,1320,450,1360,490,1370,580,1360,650,1350,710,1370,770,1370,840,1370,890,1350,960,1360,1000,1370,560,1430,620,1420,700,1400,730,1425,790,1420,860,1420,940,1400,602,1448,943,1451,
430,225,535,225,590,225,650,225,705,225,760,210,820,215,870,220,950,200,300,340,400,280,480,260,540,300,610,270,720,270,800,270,920,300,1000,280,1090,300,1150,310,1240,300,1190,330,280,350,450,340,550,340,620,330,700,350,780,380,880,330,1010,340,1120,360,1190,400,1260,380,1310,370,1330,430,190,440,240,450,330,450,520,440,570,420,640,420,780,440,900,420,1090,420,1110,440,1300,450,1290,440,1360,460,
150,510,270,510,340,490,500,490,590,500,750,490,920,510,1030,500,1090,490,1310,500,1380,510,1400,540,120,610,190,560,330,560,400,580,450,620,520,570,670,580,760,630,830,610,900,590,1000,640,1090,620,1180,620,1240,600,1280,560,1370,560,100,750,210,700,260,720,340,640,440,640,460,700,590,640,700,640,790,680,870,660,950,630,1010,680,1160,640,1230,690,1320,680,1400,660,1420,720,
130,800,170,800,240,780,340,790,400,800,480,790,560,780,650,760,720,770,830,770,910,810,1020,790,1060,810,1120,800,1180,840,1230,760,1290,760,1340,780,1430,740,130,840,200,900,250,880,310,900,370,870,440,870,560,860,640,850,710,900,760,870,820,860,880,840,950,840,1010,880,1100,890,1160,900,1340,880,1390,830,200,970,270,1030,330,950,390,960,460,1010,530,990,600,950,690,970,780,960,860,940,920,960,990,930,1060,1000,1130,950,1280,970,1370,950,
180,1030,220,1090,290,1070,350,1070,400,1070,470,1090,530,1070,590,1070,640,1130,710,1070,780,1110,850,1090,920,1060,1040,1040,1140,1060,1260,1080,1280,1020,1350,1060,1390,1030,220,1130,310,1170,380,1180,450,1190,520,1160,590,1160,650,1180,730,1180,850,1170,930,1150,1090,1150,1170,1210,1240,1190,1310,1180,340,1250,400,1290,450,1290,510,1300,570,1290,640,1250,720,1280,780,1310,840,1250,980,1290,1080,1270,1160,1270,1220,1260,430,1340,510,1340,610,1370,680,1390,750,1340,830,1320,920,1370,990,1340,1060,1360,560,1400,660,1420,720,1390];
const brMalignant = [595,181,551,208,576,198,544,234,570,232,580,245,683,237,919,232,524,270,492,295,532,299,398,315,472,323,492,331,597,332,568,353,555,368,540,385,557,393,570,385,589,379,319,398,368,405,424,402,353,424,335,433,316,461,937,292,952,333,897,358,984,390,1129,245,1146,254,1033,327,1036,347,1060,360,1047,370,1140,315,1183,328,1130,345,1175,352,1162,358,1242,351,1285,365,1086,380,1228,398,1140,425,1095,436,1214,440,1200,468,1192,484,1228,480,1218,508,1305,483,1010,487,1028,497,1100,488,1123,514,1160,520,1253,540,1289,531,1334,514,1358,524,1351,548,1383,553,520,487,520,520,198,543,684,556,908,560,856,580,1044,558,1041,582,1076,600,1103,608,1213,580,1232,590,1192,600,1234,600,1282,578,1288,597,1348,593,1392,602,1362,632,1020,637,1051,648,1147,648,1165,665,1192,655,1215,668,1232,652,1245,646,1191,675,1250,686,1313,654,1328,671,1038,675,1296,703,1372,700,1397,708,1232,730,1433,733,416,640,398,661,459,658,428,686,478,706,511,699,532,752,440,775,418,793,484,797,545,797,562,781,316,830,992,763,1068,792,1309,885,1335,938,464,929,992,952,990,970,1043,951,1053,978,1106,997,1027,1003,1052,1012,1241,1028,1273,1031,914,1050,1049,1062,343,1068,236,1112,1337,1079,1221,1101,1246,1095,1269,1109,1238,1117,1249,1131,1249,1152,935,1142,1026,1124,1025,1146,1037,1168,1172,1162,1214,1168,1231,1199,1205,1213,1172,1222,1140,1233,1215,1238,516,1353,560,1380];
const brCd8 = [1081,214,968,285,976,296,777,372,907,388,457,622,367,665,827,680,850,675,905,665,915,678,928,672,870,702,876,694,1202,658,707,715,722,741,922,740,1270,750,1268,758,1305,755,1320,768,1336,762,683,793,692,802,710,808,728,802,760,795,770,797,517,783,586,803,818,816,958,806,1420,796,1434,797,1358,820,1378,841,398,840,714,859,755,901,554,932,648,930,660,935,670,927,202,974,559,1024,1250,1010,1285,1008,1250,1020,1149,1068,530,1172,985,1275,995,1280,985,1288,1090,1280,1105,1298,1055,1312,1068,1315,751,1330,1100,1333];

const noDot = () => <g />;
const pairs = (flat: number[]) => {
  const out: { x: number; y: number }[] = [];
  for (let i = 0; i < flat.length; i += 2) out.push({ x: flat[i], y: flat[i + 1] });
  return out;
};
const side = (center: number, profile: Profile, unit: number, dir: number) =>
  profile.map(([y, d]) => ({ x: center + dir * d * unit, y }));
const outline = (center: number, profile: Profile, unit: number) => {
  const left = side(center, profile, unit, -1);
  const right = side(center, profile, unit, 1).reverse();
  return [...left, ...right, left[0]];
};

function path(key: string, points: { x: number; y: number }[], style: any, joint: any = 'linear') {
  return (
    <Scatter
      key={key}
      data={points}
      line={{ strokeLinejoin: 'round', strokeLinecap: 'round', fill: 'none', ...style }}
      lineType="joint"
      lineJointType={joint}
      shape={noDot}
      isAnimationActive={false}
    />
  );
}

// the long necks overshoot with a closed spline, so the sides are curved one at a time
function smoothViolin(i: number, p: Profile, unit: number, stroke: string, fill: string, strokeWidth: number) {
  const left = side(i, p, unit, -1);
  const right = side(i, p, unit, 1);
  const last = p.length - 1;
  return [
    path(`f${i}`, outline(i, p, unit), { stroke: 'none', fill }),
    path(`l${i}`, left, { stroke, strokeWidth }, 'monotoneY'),
    path(`r${i}`, right, { stroke, strokeWidth }, 'monotoneY'),
    path(`b${i}`, [left[0], right[0]], { stroke, strokeWidth }),
    path(`e${i}`, [left[last], right[last]], { stroke, strokeWidth }),
  ];
}

// axisPad: visible axes need a size of 1 to be drawn, hidden ones take no room
function Frame({ x, y, w, h, axisPad = 1, children }: any) {
  return (
    <div style={{ position: 'absolute', left: 0, top: 0 }}>
      <ScatterChart
        width={PAGE_W}
        height={PAGE_H}
        margin={{ left: x - axisPad, top: y, right: PAGE_W - x - w, bottom: PAGE_H - y - h - axisPad }}
        style={{ overflow: 'visible' }}
      >
        {children}
      </ScatterChart>
    </div>
  );
}

function Txt({ x, y, size, rotate = 0, scale, color = '#000', weight, children }: any) {
  const parts = ['translate(-50%,-50%)'];
  if (rotate) parts.push(`rotate(${rotate}deg)`);
  if (scale) parts.push(`scaleY(${scale})`);
  return (
    <div
      style={{
        position: 'absolute', left: x, top: y, transform: parts.join(' '), fontFamily: SANS,
        fontSize: size, lineHeight: 1, whiteSpace: 'nowrap', color, fontWeight: weight,
      }}
    >
      {children}
    </div>
  );
}

function PValue({ x, y, size = 45, sign, value }: any) {
  return <Txt x={x} y={y} size={size}><i>P</i>{sign}{value}</Txt>;
}

function Swatch({ x, y, w, h, stroke, fill }: any) {
  return (
    <div
      style={{
        position: 'absolute', left: x, top: y, width: w, height: h, boxSizing: 'border-box',
        border: `7px solid ${stroke}`, background: fill,
      }}
    />
  );
}

function DensityPanel({ rect, xDomain, unit, profiles, strokes, fills, medians, medianColors, quartiles, tickSlots, bars, strokeWidth, yTickLen, yAxisW, xTickMargin }: any) {
  return (
    <Frame {...rect}>
      <XAxis
        dataKey="x" type="number" domain={xDomain} height={1} ticks={tickSlots} interval={0}
        tickFormatter={(_v: number, i: number) => markerNames[i]} tickLine={false} tickMargin={xTickMargin}
        axisLine={{ stroke: '#000', strokeWidth: 8 }}
        tick={{ fontSize: 45, fill: '#000', fontFamily: SANS }}
      />
      <YAxis
        dataKey="y" type="number" domain={[0, 4000]} width={1} ticks={densityTicks} interval={0}
        tickSize={yTickLen} tickMargin={6}
        axisLine={{ stroke: '#000', strokeWidth: yAxisW }}
        tickLine={{ stroke: '#000', strokeWidth: yAxisW }}
        tick={{ fontSize: 45, fill: '#000', fontFamily: SANS }}
      />
      {sepSlots.map((s: number) => (
        <ReferenceLine key={s} x={s} stroke="#000" strokeWidth={4} strokeDasharray="4 6" />
      ))}
      {profiles.map((p: Profile, i: number) => smoothViolin(i, p, unit, strokes[i], fills[i], strokeWidth))}
      {quartiles.map(([v, y, d]: number[], i: number) =>
        path(`q${i}`, [{ x: v - d * unit, y }, { x: v + d * unit, y }], { stroke: strokes[v], strokeWidth: 3, strokeDasharray: '3 7', strokeLinecap: 'butt' }),
      )}
      {medians.map(([v, y, d]: number[], i: number) =>
        path(`m${i}`, [{ x: v - d * unit, y }, { x: v + d * unit, y }], { stroke: medianColors[i], strokeWidth: 4, strokeDasharray: '10 6', strokeLinecap: 'butt' }),
      )}
      {bars.map(([a, b, y]: number[]) => (
        <ReferenceLine
          key={a} ifOverflow="visible" stroke="#000" strokeWidth={9} strokeLinecap="round"
          segment={[{ x: a, y }, { x: b, y }]}
        />
      ))}
    </Frame>
  );
}

function ViolinPanel({ rect, xDomain, yDomain, unit, left, right, boxes, outliers, ticks, minor, labelSlots }: any) {
  const boxLines = (i: number, b: number[]) => {
    const hw = 30 * unit;
    return [
      path(`w${i}`, [{ x: i, y: b[0] }, { x: i, y: b[1] }], { stroke: '#fff', strokeWidth: 3 }),
      path(`t${i}`, [{ x: i, y: b[3] }, { x: i, y: b[4] }], { stroke: '#fff', strokeWidth: 3 }),
      path(
        `b${i}`,
        [{ x: i - hw, y: b[1] }, { x: i + hw, y: b[1] }, { x: i + hw, y: b[3] }, { x: i - hw, y: b[3] }, { x: i - hw, y: b[1] }],
        { stroke: '#fff', strokeWidth: 3 },
      ),
      path(`c${i}`, [{ x: i - hw, y: b[2] }, { x: i + hw, y: b[2] }], { stroke: '#fff', strokeWidth: 4 }),
    ];
  };
  return (
    <Frame {...rect}>
      <CartesianGrid horizontalValues={minor} vertical={false} stroke="#f0f0f0" strokeWidth={2} />
      <CartesianGrid horizontalValues={ticks} verticalValues={[0.5]} stroke="#ebebeb" strokeWidth={3} />
      <XAxis
        dataKey="x" type="number" domain={xDomain} height={1} ticks={labelSlots} interval={0}
        tickFormatter={(_v: number, i: number) => groupNames[i]} tickLine={false} axisLine={false} tickMargin={24}
        tick={{ fontSize: 46, fill: '#000', fontFamily: SANS }}
      />
      <YAxis
        dataKey="y" type="number" domain={yDomain} width={1} ticks={ticks} interval={0}
        tickLine={false} axisLine={false} tickSize={0} tickMargin={17}
        tick={{ fontSize: 27, fill: '#555', fontFamily: SANS }}
      />
      {path('left', outline(0, left, unit), { stroke: '#333', fill: '#F8766D', strokeWidth: 2.5 }, 'natural')}
      {path('right', outline(1, right, unit), { stroke: '#333', fill: '#00BFC4', strokeWidth: 2.5 }, 'natural')}
      {boxes.map((b: number[], i: number) => boxLines(i, b))}
      <Scatter
        data={outliers}
        isAnimationActive={false}
        shape={(p: any) => <circle cx={p.cx} cy={p.cy} r={7} fill="#fff" fillOpacity={0.55} />}
      />
      <ReferenceLine
        ifOverflow="visible" stroke="#444" strokeWidth={2}
        segment={[{ x: 0.5, y: yDomain[0] }, { x: 0.5, y: yDomain[0] - (yDomain[1] - yDomain[0]) / 100 }]}
      />
    </Frame>
  );
}

function CellPanel({ rect, xDomain, yDomain, vLines, hLines, others, cd8, malignant, grayR }: any) {
  const dot = (r: number, color: string) => (p: any) => <circle cx={p.cx} cy={p.cy} r={r} fill={color} />;
  return (
    <Frame {...rect} axisPad={0}>
      <CartesianGrid fill="#ebebeb" fillOpacity={1} stroke="#fff" strokeWidth={3} verticalValues={vLines} horizontalValues={hLines} />
      <XAxis dataKey="x" type="number" domain={xDomain} hide />
      <YAxis dataKey="y" type="number" domain={yDomain} reversed hide />
      <Scatter data={pairs(others)} isAnimationActive={false} shape={dot(grayR, '#bebebe')} />
      <Scatter data={pairs(cd8)} isAnimationActive={false} shape={dot(6.5, '#006400')} />
      <Scatter data={pairs(malignant)} isAnimationActive={false} shape={dot(6.5, '#ff0000')} />
    </Frame>
  );
}

function StripBox({ x, y, w, h, strip, title }: any) {
  return (
    <>
      <div style={{ position: 'absolute', left: x, top: y, width: w, height: strip, boxSizing: 'border-box', border: '2.5px solid #666', background: '#fff' }} />
      <div style={{ position: 'absolute', left: x, top: y + strip, width: w, height: h, boxSizing: 'border-box', border: '2.5px solid #666', borderTop: 'none' }} />
      <Txt x={x + w / 2} y={y + strip / 2} size={40}>{title}</Txt>
    </>
  );
}

export default function App() {
  return (
    <div style={{ position: 'absolute', left: 0, top: 0, width: PAGE_W, height: PAGE_H, background: '#fff', overflow: 'hidden' }}>
      <DensityPanel
        rect={{ x: 330, y: 117, w: 1285, h: 899 }} xDomain={[-0.382, 7.406]} unit={1 / 165}
        profiles={aProfiles} strokes={aStrokes} fills={aFills} medians={aMedians} medianColors={aMedianColors}
        quartiles={aQuartiles} tickSlots={aTickSlots} bars={aBars} strokeWidth={8} yTickLen={33} yAxisW={7} xTickMargin={14}
      />
      <DensityPanel
        rect={{ x: 2252, y: 160, w: 1276, h: 885 }} xDomain={[-0.69, 7.694]} unit={1 / 152.2}
        profiles={bProfiles} strokes={bStrokes} fills={bFills} medians={bMedians} medianColors={bMedianColors}
        quartiles={bQuartiles} tickSlots={bTickSlots} bars={bBars} strokeWidth={7} yTickLen={26} yAxisW={6} xTickMargin={33}
      />
      <Txt x={72} y={75} size={122}>A</Txt>
      <Txt x={1955} y={75} size={122}>B</Txt>
      <Txt x={70} y={1428} size={118}>C</Txt>
      <Txt x={1522} y={1426} size={118}>D</Txt>

      <Txt x={155} y={567} size={50} rotate={-90}>Cell Density (cells/mm<sup style={{ fontSize: 30 }}>2</sup>)</Txt>
      <Txt x={2050} y={600} size={45} rotate={-90}>Cell Density (cells/mm<sup style={{ fontSize: 28 }}>2</sup>)</Txt>

      <PValue x={473} y={469} sign="=" value="0.002" />
      <PValue x={790} y={468} sign="=" value="0.001" />
      <PValue x={1149} y={386} sign="<" value="0.001" />
      <PValue x={1460} y={460} sign="=" value="0.009" />
      <PValue x={2421} y={215} sign="<" value="0.001" />
      <PValue x={2746} y={100} sign="<" value="0.001" />
      <PValue x={3035} y={95} sign="<" value="0.001" />
      <PValue x={3357} y={237} sign="<" value="0.001" />

      <Swatch x={1369} y={190} w={66} h={39} stroke="#0c5874" fill="#9dcfe2" />
      <Swatch x={1369} y={243} w={66} h={39} stroke="#a9282d" fill="#f5c5c7" />
      <div style={{ position: 'absolute', left: 1465, top: 187, fontFamily: SANS, fontSize: 45, lineHeight: 1 }}>Benign Tissue</div>
      <div style={{ position: 'absolute', left: 1465, top: 241, fontFamily: SANS, fontSize: 45, lineHeight: 1 }}>RCC Tissue</div>
      <Swatch x={3304} y={51} w={70} h={43} stroke="#2f6ba8" fill="#bcd3ec" />
      <Swatch x={3304} y={117} w={70} h={44} stroke="#6a3fa8" fill="#d6c8ea" />
      <div style={{ position: 'absolute', left: 3381, top: 52, fontFamily: SANS, fontSize: 45, lineHeight: 1 }}>Epithelial compartment</div>
      <div style={{ position: 'absolute', left: 3381, top: 118, fontFamily: SANS, fontSize: 45, lineHeight: 1 }}>Stromal compartment</div>

      <ViolinPanel
        rect={{ x: 321, y: 1530, w: 1021, h: 699 }} xDomain={[-1, 1.994]} yDomain={[-8.3, 117.8]} unit={1 / 341}
        left={distNo} right={distYes} boxes={distBoxes} outliers={distOutliers} ticks={distTicks} minor={distMinor}
        labelSlots={[-0.1, 1.14]}
      />
      <ViolinPanel
        rect={{ x: 317, y: 2504, w: 1040, h: 677 }} xDomain={[-1.003, 1.994]} yDomain={[-9.4, 33.8]} unit={1 / 347}
        left={intNo} right={intYes} boxes={intBoxes} outliers={intOutliers} ticks={intTicks} minor={intMinor}
        labelSlots={[-0.107, 1.11]}
      />
      <StripBox x={321} y={1434} w={1021} h={699} strip={96} title={<>Mean distance between CD8<sup style={{ fontSize: 24 }}>+</sup> and RCC cells</>} />
      <StripBox x={317} y={2406} w={1040} h={677} strip={98} title={<>Mean CD8<sup style={{ fontSize: 24 }}>+</sup> Expression around RCC cells</>} />
      <div style={{ position: 'absolute', left: 714, top: 1547, width: 224, height: 111, background: '#fff' }} />
      <div style={{ position: 'absolute', left: 705, top: 2578, width: 255, height: 99, background: '#fff' }} />
      <PValue x={811} y={1607} size={40} sign="=" value="0.03" />
      <PValue x={819} y={2630} size={40} sign="=" value="0.02" />
      <Txt x={207} y={1858} size={53} rotate={-90}>Distance</Txt>
      <Txt x={210} y={2805} size={56} rotate={-90}>Intensity level</Txt>

      <CellPanel
        rect={{ x: 1699, y: 1447, w: 874, h: 851 }} xDomain={[32, 1505]} yDomain={[47, 1530]}
        vLines={[178, 372, 572, 768, 965, 1162, 1358]} hLines={[230, 435, 640, 845, 1050, 1258, 1465]}
        others={tlOthers} cd8={tlCd8} malignant={tlMalignant} grayR={6.5}
      />
      <CellPanel
        rect={{ x: 2608, y: 1450, w: 873, h: 845 }} xDomain={[47, 1520]} yDomain={[52, 1525]}
        vLines={[100, 305, 505, 705, 907, 1108, 1310, 1510]} hLines={[155, 358, 565, 770, 975, 1180, 1385]}
        others={trOthers} cd8={trCd8} malignant={trMalignant} grayR={6.5}
      />
      <CellPanel
        rect={{ x: 1693, y: 2354, w: 879, h: 850 }} xDomain={[22, 1505]} yDomain={[42, 1522]}
        vLines={[35, 240, 445, 650, 857, 1062, 1270, 1473]} hLines={[65, 260, 455, 650, 845, 1040, 1235, 1430]}
        others={blOthers} cd8={blCd8} malignant={blMalignant} grayR={8}
      />
      <CellPanel
        rect={{ x: 2604, y: 2353, w: 876, h: 849 }} xDomain={[40, 1518]} yDomain={[40, 1520]}
        vLines={[108, 312, 513, 716, 920, 1122, 1325]} hLines={[140, 332, 522, 715, 908, 1102, 1293, 1487]}
        others={brOthers} cd8={brCd8} malignant={brMalignant} grayR={8.5}
      />
      <Txt x={1620} y={1870} size={75} rotate={-90} scale={1.2}>NO PROGRESSION</Txt>
      <Txt x={1620} y={2850} size={69} rotate={-90} scale={1.25}>PROGRESSION</Txt>

      <div style={{ position: 'absolute', left: 3560, top: 2118, fontFamily: SANS, fontSize: 59, lineHeight: 1 }}>Cell Type</div>
      <div style={{ position: 'absolute', left: 3560, top: 2207, width: 95, height: 285, background: '#ececec' }} />
      {[['#006400', 2255, 'CD8'], ['#ff0000', 2350, 'Malignant'], ['#bebebe', 2445, 'Others']].map(([c, y, t]: any) => (
        <React.Fragment key={t}>
          <div style={{ position: 'absolute', left: 3591, top: y - 14, width: 28, height: 28, borderRadius: 14, background: c }} />
          <div style={{ position: 'absolute', left: 3683, top: y - 24, fontFamily: SANS, fontSize: 48, lineHeight: 1 }}>{t}</div>
        </React.Fragment>
      ))}
    </div>
  );
}
